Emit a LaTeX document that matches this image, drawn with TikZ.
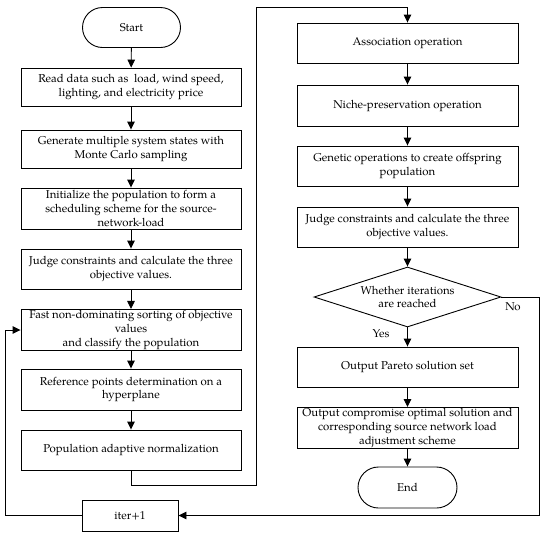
\documentclass[tikz,border=0pt]{standalone}
\usepackage{fontspec}
\setmainfont{TeX Gyre Pagella}
\usetikzlibrary{shapes.geometric,shapes.misc,arrows.meta}
\begin{document}
\begin{tikzpicture}[x=1pt,y=-1pt,
  every node/.style={font=\fontsize{11.4}{13.8}\selectfont, align=center, inner sep=1pt},
  box/.style={draw, line width=0.9pt, rectangle, minimum width=220pt, minimum height=40pt},
  term/.style={draw, line width=0.9pt, rounded rectangle, minimum width=100pt, minimum height=40pt},
  dec/.style={draw, line width=0.9pt, diamond, aspect=3.1, minimum width=187pt, minimum height=60pt, inner sep=0pt},
  flow/.style={line width=0.9pt, -{Triangle[length=8pt,width=7.5pt]}},
  plain/.style={line width=0.9pt}]
\useasboundingbox (0,0) rectangle (550,539);
% left column
\node[term] (start) at (131.5,27.5) {Start};
\node[box, minimum height=38pt] (b1) at (131,87) {Read data such as\ \ load, wind speed,\\lighting, and electricity price};
\node[box, minimum height=38pt] (b2) at (131,149) {Generate multiple system states with\\Monte Carlo sampling};
\node[box, minimum height=41pt] (b3) at (131,208.5) {Initialize the population to form a\\scheduling scheme for the source-\\network-load};
\node[box] (b4) at (131,269) {Judge constraints and calculate the three\\objective values.};
\node[box] (b5) at (131,330) {Fast non-dominating sorting of objective\\values\\and classify the population};
\node[box, minimum height=41pt] (b6) at (131,389.5) {Reference points determination on a\\hyperplane};
\node[box] (b7) at (131,450) {Population adaptive normalization};
\node[draw, line width=0.9pt, minimum width=96pt, minimum height=31pt] (iter) at (130,515.5) {iter+1};
% right column
\node[box, minimum width=221pt] (r1) at (407.5,43) {Association operation};
\node[box, minimum width=221pt, minimum height=41pt] (r2) at (407.5,105.5) {Niche-preservation operation};
\node[box, minimum width=221pt] (r3) at (407.5,166) {Genetic operations to create offspring\\population};
\node[box, minimum width=221pt] (r4) at (407.5,227) {Judge constraints and calculate the three\\objective values.};
\node[dec] (d) at (407.5,297) {Whether iterations\\are reached};
\node[box, minimum width=221pt] (r5) at (407.5,367) {Output Pareto solution set};
\node[box, minimum width=221pt] (r6) at (407.5,428) {Output compromise optimal solution and\\corresponding source network load\\adjustment scheme};
\node[term, minimum width=101pt, minimum height=41pt] (end) at (407.5,487.5) {End};
\node (yes) at (381,334) {Yes};
\node (no) at (513,307) {No};
% coordinates
\coordinate (c1) at (131,485);
\coordinate (c2) at (256,485);
\coordinate (c3) at (256,7);
\coordinate (c4) at (407.5,7);
\coordinate (n1) at (539,297);
\coordinate (n2) at (539,515.5);
\coordinate (l1) at (5,515.5);
\coordinate (l2) at (5,330);
% connectors
\draw[flow] (start) -- (b1);
\draw[flow] (b1) -- (b2);
\draw[flow] (b2) -- (b3);
\draw[flow] (b3) -- (b4);
\draw[flow] (b4) -- (b5);
\draw[flow] (b5) -- (b6);
\draw[flow] (b6) -- (b7);
\draw[flow] (b7.south) -- (c1) -- (c2) -- (c3) -- (c4) -- (r1.north);
\draw[flow] (r1) -- (r2);
\draw[flow] (r2) -- (r3);
\draw[flow] (r3) -- (r4);
\draw[flow] (r4) -- (d);
\draw[flow] (d) -- (r5);
\draw[flow] (r5) -- (r6);
\draw[flow] (r6) -- (end);
\draw[flow] (d.east) -- (n1) -- (n2) -- (iter.east);
\draw[flow] (iter.west) -- (l1) -- (l2) -- (b5.west);
\end{tikzpicture}
\end{document}
